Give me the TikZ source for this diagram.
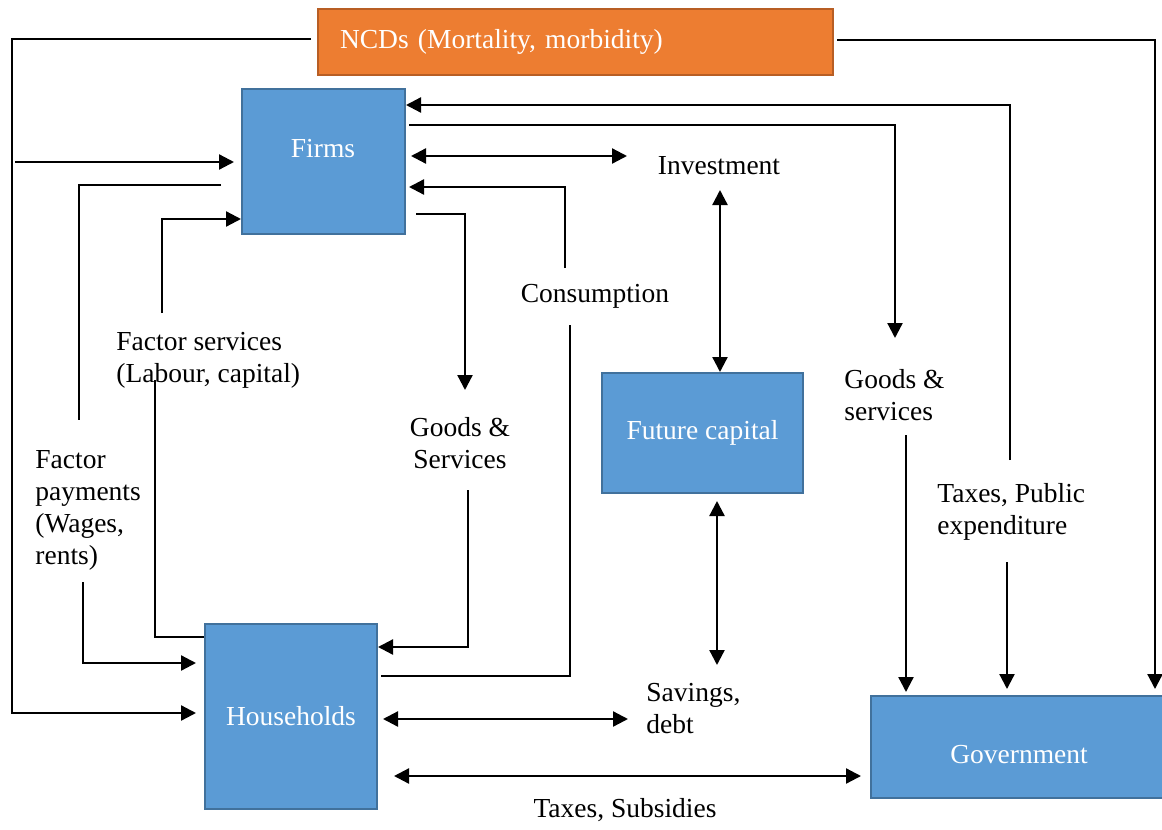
\documentclass[tikz,border=0pt]{standalone}
\usepackage{fontspec}
\setmainfont{Liberation Serif}
\usetikzlibrary{arrows.meta}
\definecolor{boxblue}{HTML}{5B9BD5}
\definecolor{boxborder}{HTML}{41719C}
\definecolor{ncdorange}{HTML}{ED7D31}
\definecolor{ncdborder}{HTML}{B85E24}
\begin{document}
\begin{tikzpicture}[x=0.5pt,y=-0.5pt,
  txt/.style={font=\fontsize{13.75}{16}\selectfont, inner sep=0pt},
  box/.style={draw=boxborder, line width=1pt, fill=boxblue, text=white, txt},
  lbl/.style={txt, align=left},
  conn/.style={line width=1.15pt, black},
  arr/.style={conn, -{Triangle[length=7.5pt,width=7.5pt]}},
  darr/.style={conn, {Triangle[length=7.5pt,width=7.5pt]}-{Triangle[length=7.5pt,width=7.5pt]}}
]
\useasboundingbox (0,0) rectangle (1162,830);

% boxes
\node[draw=ncdborder, line width=1pt, fill=ncdorange, text=white, txt,
      minimum width=257.5pt, minimum height=33pt, text width=235.5pt, inner xsep=11pt, align=left]
      (ncd) at (575.5,42) {NCDs (Mortality, morbidity)};
\node[box, minimum width=81.5pt, minimum height=72.5pt] (firms) at (323.5,161.5) {};
\node[txt, text=white] (firmslbl) at (323,149) {Firms};
\node[box, minimum width=100.5pt, minimum height=60pt] (future) at (702.5,433) {Future capital};
\node[box, minimum width=86pt, minimum height=92.5pt] (households) at (291,716.5) {Households};
\node[box, minimum width=160pt, minimum height=51pt] (government) at (1031,747) {};
\node[txt, text=white] (govlbl) at (1019,755) {Government};

% labels
\node[lbl, anchor=west] (fslbl) at (116,360) {Factor services\\(Labour, capital)};
\node[lbl, anchor=west] (fplbl) at (35,510) {Factor\\payments\\(Wages,\\rents)};
\node[txt, align=center] (ghlbl) at (460,443) {Goods \&\\Services};
\node[txt] (colbl) at (595,296) {Consumption};
\node[txt] (invlbl) at (719,166) {Investment};
\node[lbl, anchor=west] (gglbl) at (844,395) {Goods \&\\services};
\node[lbl, anchor=west] (txlbl) at (937,512) {Taxes, Public\\expenditure};
\node[lbl, anchor=west] (svlbl) at (646,709) {Savings,\\debt};
\node[txt] (tslbl) at (625,810) {Taxes, Subsidies};

% coordinates
\coordinate (nl1) at (12,39);
\coordinate (nl2) at (12,713);
\coordinate (s1) at (15,162);
\coordinate (fpB) at (79,185);
\coordinate (fpA) at (79,420);
\coordinate (fpC) at (83,582);
\coordinate (fpD) at (83,663);
\coordinate (fsA) at (162,313);
\coordinate (fsB) at (162,219);
\coordinate (fsC) at (155,380);
\coordinate (fsD) at (155,637);
\coordinate (txA) at (1010,460);
\coordinate (txB) at (1010,105);
\coordinate (txC) at (1007,562);
\coordinate (gsA) at (895,125);
\coordinate (gsB) at (895,338);
\coordinate (gsC) at (906,435);
\coordinate (invA) at (627,156);
\coordinate (coA) at (565,268);
\coordinate (coB) at (565,187);
\coordinate (coC) at (570,325);
\coordinate (coD) at (570,676);
\coordinate (ghA) at (465,214);
\coordinate (ghB) at (465,390);
\coordinate (ghC) at (468,490);
\coordinate (ghD) at (468,647);
\coordinate (ivB) at (720,190);
\coordinate (fcA) at (717,493);
\coordinate (svA) at (717,665);
\coordinate (svB) at (628,719);
\coordinate (tsY) at (0,776);
\coordinate (nrA) at (1155,40);

% connectors
\draw[arr, shorten <=3pt, shorten >=4pt] (ncd.west |- nl1) -- (nl1) -- (nl2) -- (households.west |- nl2);
\draw[arr, shorten >=3.5pt] (s1) -- (firms.west |- s1);
\draw[conn, shorten <=10pt] (firms.west |- fpB) -- (fpB) -- (fpA);
\draw[arr, shorten >=4pt] (fpC) -- (fpD) -- (households.west |- fpD);
\draw[arr] (fsA) -- (fsB) -- (firms.west |- fsB);
\draw[conn] (fsC) -- (fsD) -- (households.west |- fsD);
\draw[arr] (txA) -- (txB) -- (firms.east |- txB);
\draw[arr, shorten >=3pt] (txC) -- (government.north -| txC);
\draw[arr, shorten <=1.5pt] (firms.east |- gsA) -- (gsA) -- (gsB);
\draw[arr, shorten >=1.5pt] (gsC) -- (government.north -| gsC);
\draw[darr, shorten <=2.5pt] (firms.east |- invA) -- (invA);
\draw[arr, shorten >=1.5pt] (coA) -- (coB) -- (firms.east |- coB);
\draw[conn, shorten >=1.5pt] (coC) -- (coD) -- (households.east |- coD);
\draw[arr, shorten <=5pt] (firms.east |- ghA) -- (ghA) -- (ghB);
\draw[arr] (ghC) -- (ghD) -- (households.east |- ghD);
\draw[darr] (ivB) -- (future.north -| ivB);
\draw[darr, shorten <=3.5pt] (future.south -| fcA) -- (svA);
\draw[darr, shorten <=2.5pt] (households.east |- svB) -- (svB);
\draw[darr, shorten <=8pt, shorten >=4.5pt] (households.east |- tsY) -- (government.west |- tsY);
\draw[arr, shorten <=1.5pt, shorten >=3pt] (ncd.east |- nrA) -- (nrA) -- (government.north -| nrA);
\end{tikzpicture}
\end{document}
